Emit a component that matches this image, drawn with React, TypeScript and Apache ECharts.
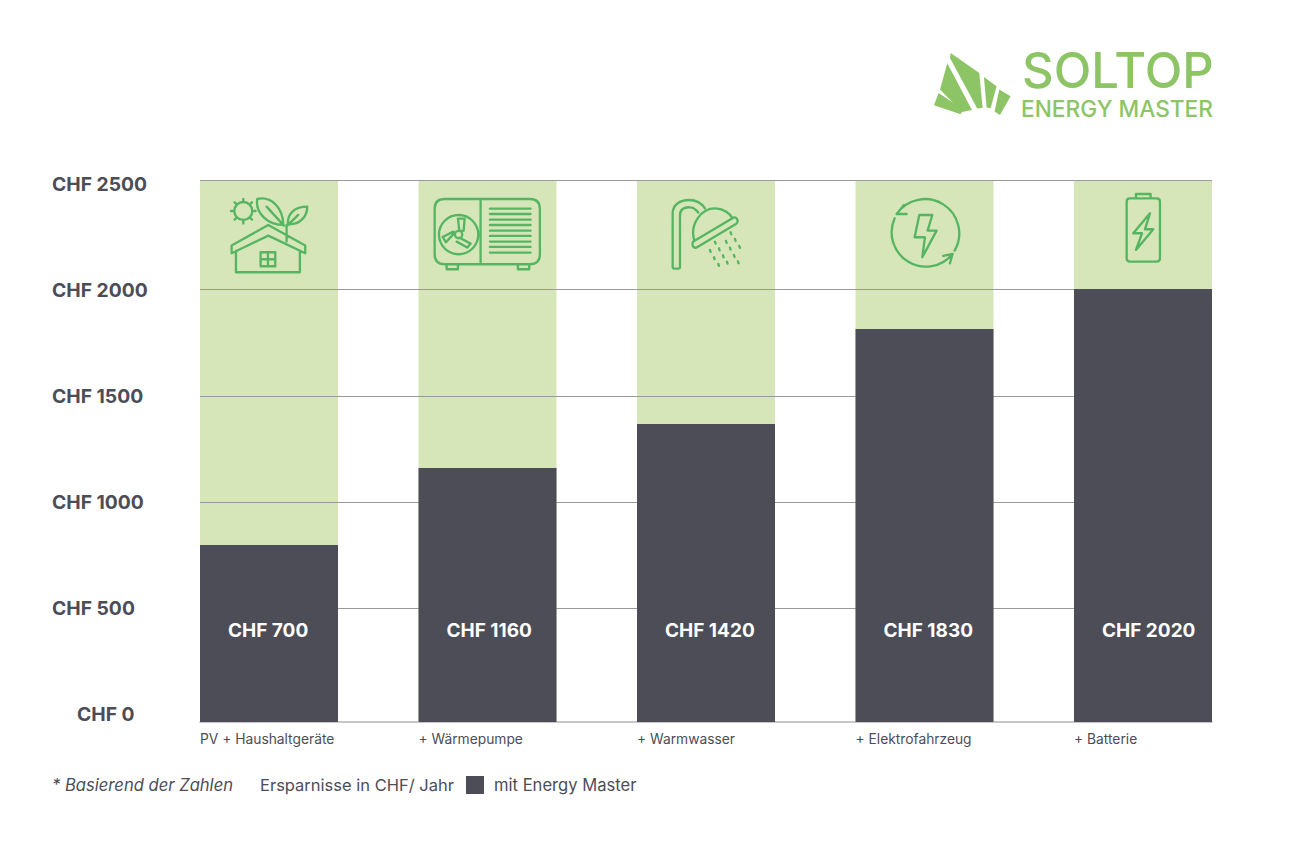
import React, { useEffect, useRef } from "react";
import * as echarts from "echarts";

const categories = ["PV + Haushaltgeräte", "+ Wärmepumpe", "+ Warmwasser", "+ Elektrofahrzeug", "+ Batterie"];
const barHeights = [816, 1172, 1375, 1813, 1997];
const fullHeights = [2500, 2500, 2500, 2500, 2500];
const valueLabels = ["CHF 700", "CHF 1160", "CHF 1420", "CHF 1830", "CHF 2020"];
const yTicks = [0, 500, 1000, 1500, 2000, 2500];
const gridLevels = [526, 1015, 1504, 1997, 2500];
const labelLevel = 420;

const DARK = "#4c4d57";
const PALE = "#d6e6b9";
const LOGO = "#8dc566";
const ICON = "#55b562";
const FONT = "Inter";
const EDGE = 0.3158; // half bar-slot inset of the plot's ends
const LABEL_SHIFT = 0.128;

const houseD =
  "M157 108 A27 27 0 1 1 103 108 A27 27 0 1 1 157 108 Z M130 72 V81 M130 135 V146 M93 108 H103 M157 108 H167 M104 82 L111 89 M149 127 L156 134 M156 82 L149 89 M111 127 L104 134 " +
  "M172 72 C215 62 250 100 250 150 C205 150 165 115 172 72 Z M200 95 L252 152 " +
  "M322 95 C285 95 262 115 264 148 C300 150 322 125 322 95 Z M295 120 L262 152 M260 150 V200 " +
  "M95 212 L205 150 L316 212 V235 L205 182 L95 235 Z M108 228 V292 H300 V228 " +
  "M182 232 H226 V274 H182 Z M204 232 V274 M182 253 H226";
const pumpD =
  "M74 42 H330 Q360 42 360 72 V208 Q360 238 330 238 H74 Q44 238 44 208 V72 Q44 42 74 42 Z M182 42 V238 " +
  "M80 238 V253 H114 V238 M294 238 V253 H328 V238 " +
  "M210 71 H332 M210 87 H332 M210 104 H332 M210 120 H332 M210 137 H332 M210 153 H332 M210 170 H332 M210 186 H332 M210 203 H332 " +
  "M175 149 A59 59 0 1 1 57 149 A59 59 0 1 1 175 149 Z M127 149 A11 11 0 1 1 105 149 A11 11 0 1 1 127 149 Z " +
  "M114 101 H134 L131 138 H118 Z M104 143 L78 172 L68 156 L100 140 Z M122 160 L152 176 L142 188 L110 170";
const showerD =
  "M38 232 V70 C38 45 60 30 88 30 C108 30 125 40 135 55 M60 232 V75 C60 60 72 50 90 52 C100 52 108 58 115 68 " +
  "M38 232 Q38 236 42 236 H56 Q60 236 60 232 " +
  "M102 148 C90 100 125 55 165 55 C190 55 210 70 218 85 " +
  "M100 155 L220 83 Q230 80 233 92 Q234 98 228 102 L110 173 Q100 175 98 165 Q97 158 100 155 Z " +
  "M150 180 L152 186 M162 202 L164 208 M175 222 L177 228 M165 155 L167 161 M177 175 L179 181 M189 196 L191 202 M201 215 L203 221 " +
  "M198 153 L200 159 M210 173 L212 179 M222 195 L224 201 M234 214 L236 220 M212 127 L214 133 M225 147 L227 153 M238 168 L240 174";
const flashD =
  "M50 72 A103 103 0 0 1 224 182 M44 85 A103 103 0 0 0 218 192 M72 45 L50 72 L80 72 M190 198 L218 192 L210 220 " +
  "M118 75 H157 L143 122 H170 L127 202 L135 142 H104 Z";
const batteryD =
  "M60 40 H140 Q150 40 150 50 V220 Q150 230 140 230 H60 Q50 230 50 220 V50 Q50 40 60 40 Z M78 40 V27 H122 V40 " +
  "M120 85 L70 145 H96 L78 195 L130 133 H105 Z";

echarts.graphic.registerShape("iconHouse", echarts.graphic.extendPath(houseD, {}));
echarts.graphic.registerShape("iconPump", echarts.graphic.extendPath(pumpD, {}));
echarts.graphic.registerShape("iconShower", echarts.graphic.extendPath(showerD, {}));
echarts.graphic.registerShape("iconFlash", echarts.graphic.extendPath(flashD, {}));
echarts.graphic.registerShape("iconBattery", echarts.graphic.extendPath(batteryD, {}));

const logoPieces = [
  [[92, 39], [178, 99], [188, 204], [172, 206], [90, 54]],
  [[82, 70], [156, 210], [126, 216], [60, 149]],
  [[56, 159], [130, 209], [122, 223], [42, 196]],
  [[192, 111], [230, 139], [212, 205], [200, 203]],
  [[238, 149], [272, 169], [240, 225], [224, 215]],
];

const iconAt = (type: string, x: number, y: number) => ({
  type,
  x,
  y,
  z: 20,
  scaleX: 1 / 3,
  scaleY: 1 / 3,
  silent: true,
  style: { fill: "none", stroke: ICON, lineWidth: 7, lineCap: "round", lineJoin: "round" },
});

export default function App() {
  const ref = useRef<HTMLDivElement>(null);
  useEffect(() => {
    const chart = echarts.init(ref.current!, undefined, { renderer: "svg" });
    chart.setOption({
      animation: false,
      backgroundColor: "#ffffff",
      textStyle: { fontFamily: FONT },
      grid: { left: 200, top: 180, width: 1012, height: 542, containLabel: false },
      legend: {
        left: 466,
        top: 776,
        padding: 0,
        itemWidth: 18,
        itemHeight: 18,
        icon: "rect",
        data: ["mit Energy Master"],
        selectedMode: false,
        textStyle: { color: DARK, fontSize: 16.6, fontFamily: FONT, padding: [0, 0, 0, 5] },
      },
      xAxis: {
        type: "value",
        min: -EDGE,
        max: categories.length - 1 + EDGE,
        splitLine: { show: false },
        axisTick: { show: false },
        axisLine: { show: true, lineStyle: { color: "#b4b4b6", width: 1.5 } },
        axisLabel: {
          customValues: categories.map((_, i) => i - EDGE),
          formatter: (v: number) => categories[Math.round(v + EDGE)],
          align: "left",
          margin: 10,
          color: DARK,
          fontSize: 13.8,
          fontFamily: FONT,
        },
      },
      yAxis: [
        {
          type: "value",
          min: 0,
          max: 2500,
          axisLine: { show: false },
          axisTick: { show: false },
          axisLabel: { show: false },
          splitLine: { show: false },
        },
        {
          type: "value",
          position: "left",
          min: -37.7,
          max: 2518.6,
          axisLine: { show: false },
          axisTick: { show: false },
          splitLine: { show: false },
          axisLabel: {
            customValues: yTicks,
            formatter: (v: number) => (v === 0 ? `{zero|CHF ${v}}` : `{std|CHF ${v}}`),
            align: "left",
            margin: 148,
            color: DARK,
            fontSize: 19.3,
            fontWeight: 700,
            fontFamily: FONT,
            rich: {
              std: { color: DARK, fontSize: 19.3, fontWeight: 700, fontFamily: FONT },
              zero: { color: DARK, fontSize: 19.3, fontWeight: 700, fontFamily: FONT, padding: [0, 0, 0, 25] },
            },
          },
        },
      ],
      series: [
        {
          name: "Potenzial",
          type: "bar",
          z: 1,
          barWidth: 138,
          barGap: "-100%",
          itemStyle: { color: PALE },
          data: fullHeights.map((v, i) => [i, v]),
          markLine: {
            silent: true,
            symbol: "none",
            z: 2,
            label: { show: false },
            lineStyle: { color: "#9a9a9a", width: 1, type: "solid" },
            data: gridLevels.map((v) => ({ yAxis: v })),
          },
        },
        {
          name: "mit Energy Master",
          type: "bar",
          z: 3,
          barWidth: 138,
          barGap: "-100%",
          itemStyle: { color: DARK },
          data: barHeights.map((v, i) => [i, v]),
        },
        {
          name: "Werte",
          type: "scatter",
          z: 6,
          symbolSize: 0,
          silent: true,
          itemStyle: { opacity: 1 },
          data: valueLabels.map((s, i) => ({ name: s, value: [i - EDGE + LABEL_SHIFT, labelLevel] })),
          label: {
            show: true,
            position: "right",
            distance: 0,
            formatter: "{b}",
            color: "#ffffff",
            fontSize: 19,
            fontWeight: 700,
            fontFamily: FONT,
          },
        },
      ],
      graphic: [
        {
          type: "group",
          x: 920,
          y: 40,
          scaleX: 1 / 3,
          scaleY: 1 / 3,
          silent: true,
          children: logoPieces.map((points) => ({
            type: "polygon",
            shape: { points },
            style: { fill: LOGO },
          })),
        },
        {
          type: "text",
          x: 1022,
          y: 70,
          silent: true,
          style: { text: "SOLTOP", fill: LOGO, fontFamily: FONT, fontSize: 49, fontWeight: 500, lineHeight: 40, verticalAlign: "middle" },
        },
        {
          type: "text",
          x: 1021,
          y: 108,
          silent: true,
          style: { text: "ENERGY MASTER", fill: LOGO, fontFamily: FONT, fontSize: 22.7, fontWeight: 500, lineHeight: 20, verticalAlign: "middle" },
        },
        iconAt("iconHouse", 200, 175),
        iconAt("iconPump", 420, 185),
        iconAt("iconShower", 660, 190),
        iconAt("iconFlash", 880, 190),
        iconAt("iconBattery", 1110, 185),
        {
          type: "text",
          x: 52,
          y: 785,
          silent: true,
          style: { text: "* Basierend der Zahlen", fill: DARK, fontFamily: FONT, fontSize: 16.6, fontStyle: "italic", verticalAlign: "middle" },
        },
        {
          type: "text",
          x: 260,
          y: 785,
          silent: true,
          style: { text: "Ersparnisse in CHF/ Jahr", fill: DARK, fontFamily: FONT, fontSize: 16.5, verticalAlign: "middle" },
        },
      ],
    });
    return () => chart.dispose();
  }, []);
  return <div ref={ref} style={{ position: "fixed", left: 0, top: 0, width: 1300, height: 853 }} />;
}
